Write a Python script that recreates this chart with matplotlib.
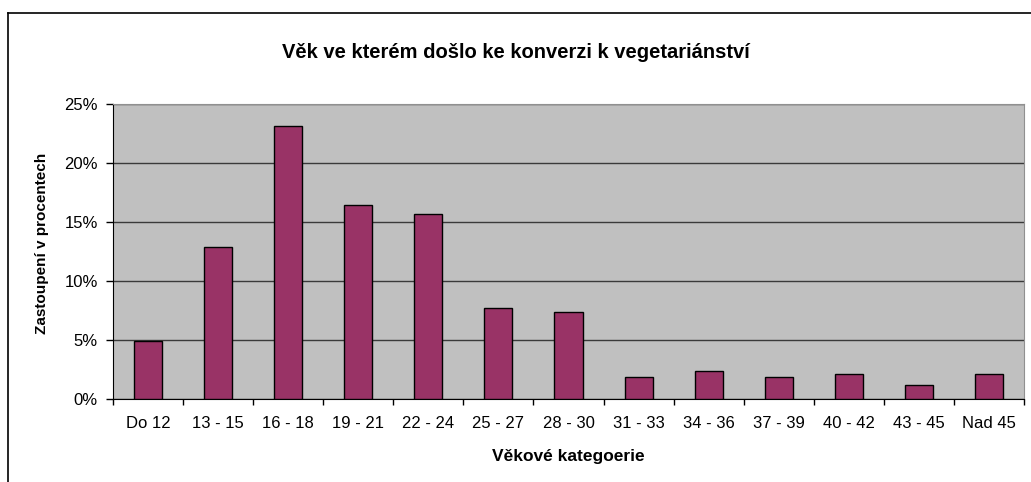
import numpy as np
import matplotlib.pyplot as plt
from matplotlib.lines import Line2D
from matplotlib.ticker import FixedLocator, PercentFormatter

plt.rcParams['font.family'] = ['Liberation Sans', 'DejaVu Sans']

# Data
categories = ['Do 12', '13 - 15', '16 - 18', '19 - 21', '22 - 24', '25 - 27', '28 - 30',
              '31 - 33', '34 - 36', '37 - 39', '40 - 42', '43 - 45', 'Nad 45']
values = [4.9, 12.9, 23.1, 16.4, 15.7, 7.7, 7.4, 1.9, 2.4, 1.9, 2.1, 1.2, 2.1]

fig = plt.figure(figsize=(10.31, 4.82), dpi=100)
ax = fig.add_axes([113/1031, 1 - 399/482, (1024 - 113)/1031, (399 - 104)/482])

x = np.arange(len(categories))
ax.bar(x, values, width=0.4, color='#993366', edgecolor='black', linewidth=1, zorder=3)

ax.set_facecolor('#C0C0C0')
ax.set_xlim(-0.5, len(categories) - 0.5)
ax.set_ylim(0, 25)
ax.set_yticks([0, 5, 10, 15, 20, 25])
ax.yaxis.set_major_formatter(PercentFormatter(decimals=0))
ax.yaxis.grid(True, color='#3a3a3a', linewidth=1, zorder=1)

ax.set_xticks(x)
ax.set_xticklabels(categories)
ax.xaxis.set_minor_locator(FixedLocator(np.arange(-0.5, len(categories), 1)))
ax.tick_params(axis='x', which='major', length=0, pad=12, labelsize=12)
ax.tick_params(axis='x', which='minor', length=4, width=1, color='black', direction='out')
ax.tick_params(axis='y', length=5, width=1, color='black', pad=6, labelsize=12)

for side in ['top', 'right']:
    ax.spines[side].set_color('#909090')
for side in ['left', 'bottom']:
    ax.spines[side].set_color('black')

fig.text(0.5, 1 - 53/482, 'Věk ve kterém došlo ke konverzi k vegetariánství',
         ha='center', va='center', fontsize=14.5, fontweight='bold')
fig.text(568/1031, 1 - 456/482, 'Věkové kategoerie',
         ha='center', va='center', fontsize=12.5, fontweight='bold')
fig.text(42/1031, 1 - 243/482, 'Zastoupení v procentech', rotation=90,
         ha='center', va='center', fontsize=11, fontweight='bold')

# chart area border (left and top edges visible)
fig.add_artist(Line2D([8/1031, 8/1031], [0, 1 - 13/482], transform=fig.transFigure,
                      color='black', linewidth=1.2))
fig.add_artist(Line2D([8/1031, 1], [1 - 13/482, 1 - 13/482], transform=fig.transFigure,
                      color='black', linewidth=1.2))

fig.savefig('out.png', dpi=100)
